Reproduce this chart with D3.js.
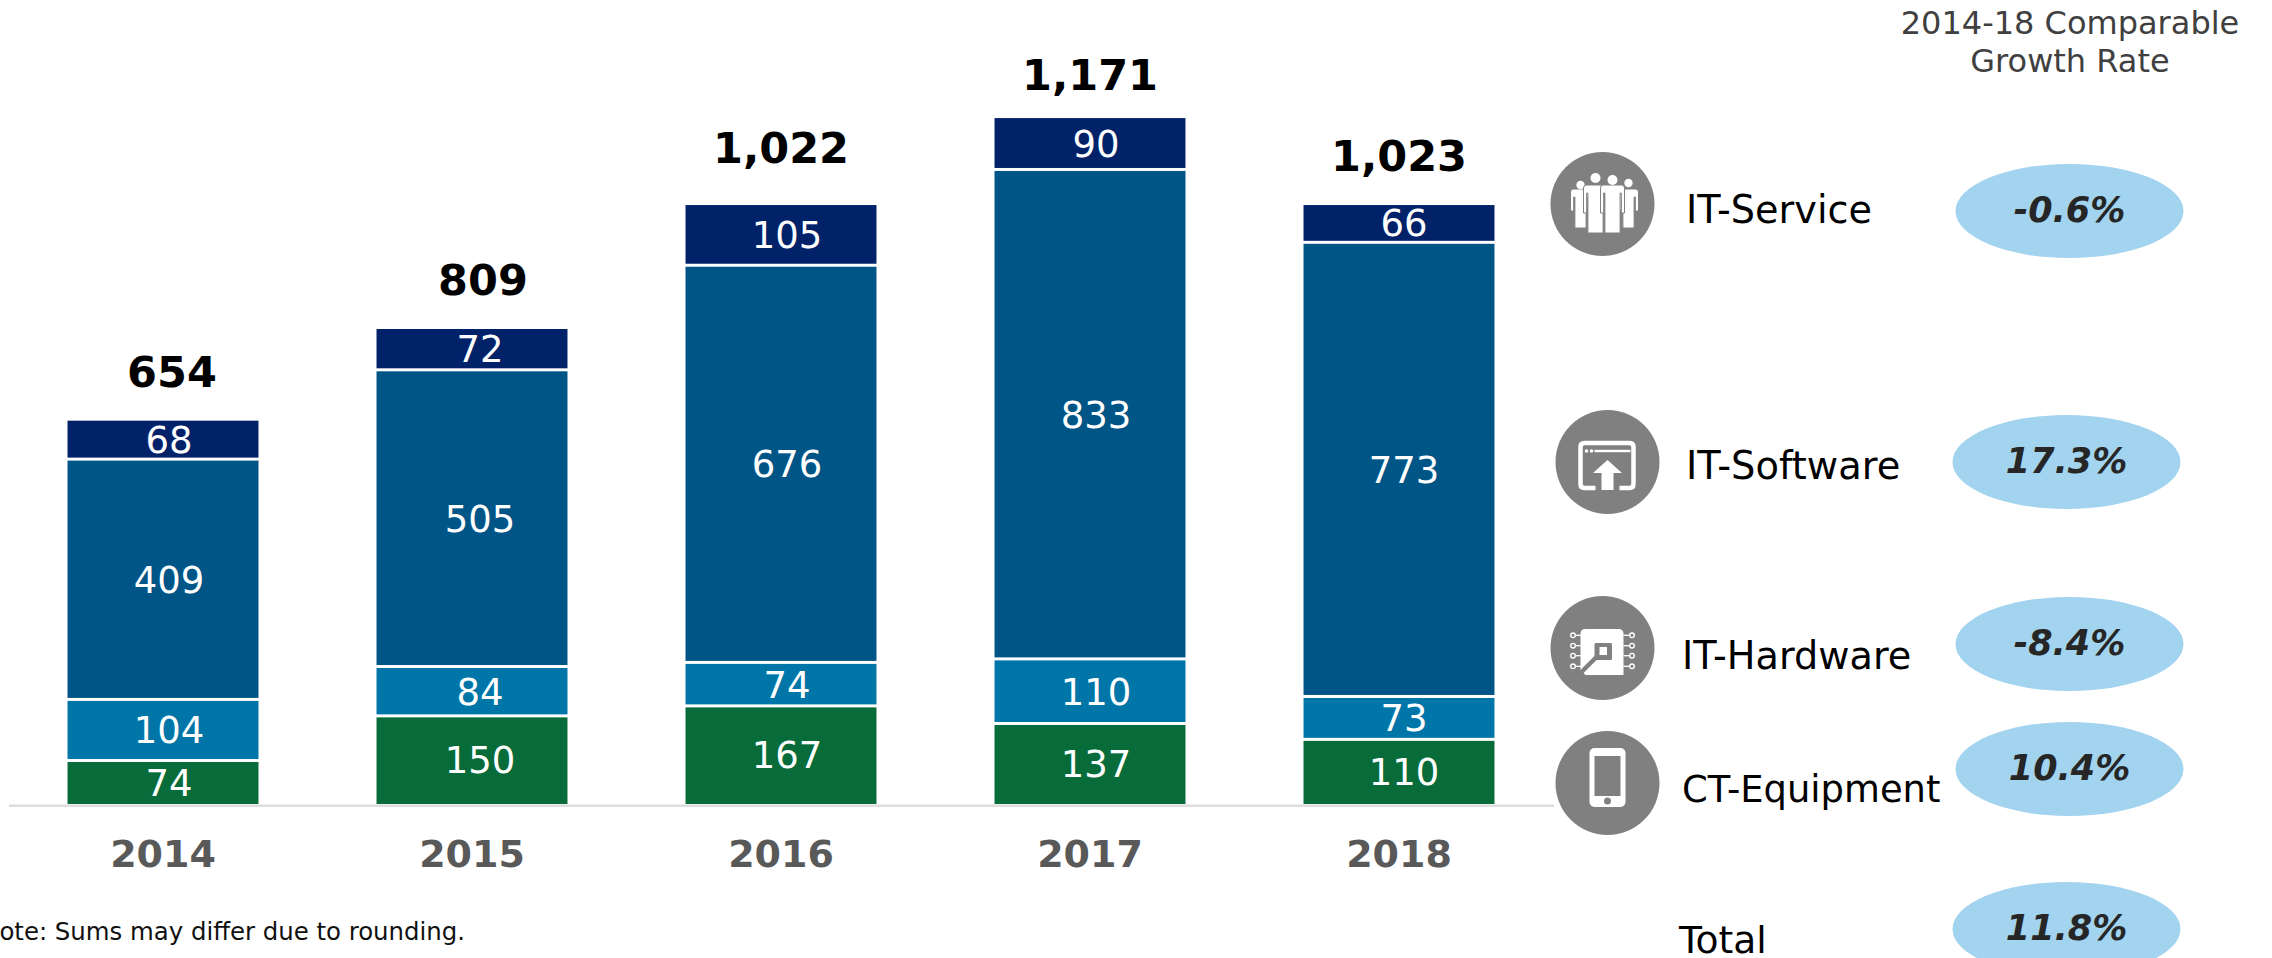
<!DOCTYPE html>
<html>
<head>
<meta charset="utf-8">
<script src="https://cdn.jsdelivr.net/npm/d3@7"></script>
<style>
html,body{margin:0;padding:0;background:#fff;overflow:hidden;}
text{font-family:"DejaVu Sans",Verdana,sans-serif;}
</style>
</head>
<body>
<div id="chart"></div>
<script>
// values
var years=["2014","2015","2016","2017","2018"];
var ctEquipment=[74,150,167,137,110];
var itHardware=[104,84,74,110,73];
var itSoftware=[409,505,676,833,773];
var itService=[68,72,105,90,66];
var totals=["654","809","1,022","1,171","1,023"];
var segmentNames=["IT-Service","IT-Software","IT-Hardware","CT-Equipment","Total"];
var growthRates=["-0.6%","17.3%","-8.4%","10.4%","11.8%"];

var segmentKeys=["ct","hw","sw","sv"];
var segmentColors=["#076b3a","#0076a8","#005587","#012169"];

// the source slide has its labels placed by hand, so these are nudges per year
var segmentLabelDx=[6,8,6,6,5];
var totalLabelDx=[9,11,0,0,0];
var totalLabelGap=[32,33,41,27,33];

// right hand panel placement
var ovalX=[2069.5,2066.5,2069.5,2069.5,2066.5];
var ovalY=[211,462,644,769,929];
var nameX=[1686,1686,1682,1682,1679];
var nameY=[223,479,669,802,953];
var nameSize=[38.2,38.4,38.2,36.9,37.6];
var iconX=[1602.5,1607.5,1602.5,1607.5];
var iconY=[204,462,648,783];

var width=2272,height=958;
var svg=d3.select("#chart").append("svg").attr("width",width).attr("height",height).style("display","block");

var x=d3.scaleBand().domain(years).range([8.5,1553.5]).paddingInner(0.382).paddingOuter(0.191);
var y=d3.scaleLinear().domain([0,1171]).range([804,116]);

var rows=years.map(function(d,i){
	return {year:d,ct:ctEquipment[i],hw:itHardware[i],sw:itSoftware[i],sv:itService[i]};
});
var stack=d3.stack().keys(segmentKeys);
var gap=3;

var layers=svg.selectAll(".layer").data(stack(rows)).enter().append("g")
	.attr("class","layer")
	.attr("fill",function(d,i){return segmentColors[i];});

layers.selectAll("rect").data(function(d){return d;}).enter().append("rect")
	.attr("x",function(d){return x(d.data.year);})
	.attr("width",x.bandwidth())
	.attr("y",function(d){return y(d[1])+gap/2;})
	.attr("height",function(d){
		return y(d[0])-y(d[1])-(d[0]===0?gap/2:gap);
	});

layers.selectAll("text").data(function(d){return d;}).enter().append("text")
	.attr("x",function(d,i){return x(d.data.year)+x.bandwidth()/2+segmentLabelDx[i];})
	.attr("y",function(d){return (y(d[0])+y(d[1]))/2;})
	.attr("dy",".365em")
	.attr("text-anchor","middle")
	.attr("fill","#fff")
	.attr("font-size",37)
	.text(function(d){return d[1]-d[0];});

// totals above the bars
svg.selectAll(".total").data(rows).enter().append("text")
	.attr("class","total")
	.attr("x",function(d,i){return x(d.year)+x.bandwidth()/2+totalLabelDx[i];})
	.attr("y",function(d,i){return y(d.ct+d.hw+d.sw+d.sv)-totalLabelGap[i];})
	.attr("text-anchor","middle")
	.attr("font-size",43)
	.attr("font-weight","bold")
	.attr("fill","#000")
	.text(function(d,i){return totals[i];});

var axis=d3.axisBottom(x).tickSize(0).tickSizeOuter(0).tickPadding(35);
var axisG=svg.append("g").attr("transform","translate(0,805.25)").call(axis);
axisG.select(".domain").attr("stroke","#dddddd").attr("stroke-width",2.5);
axisG.selectAll("text")
	.style("font-family",'"DejaVu Sans",Verdana,sans-serif')
	.attr("font-size",38)
	.attr("font-weight","bold")
	.attr("fill","#595959");

// cut off at the left edge in the reference too
svg.append("text").attr("x",465).attr("y",940).attr("text-anchor","end")
	.attr("font-size",24.4).attr("fill","#111")
	.text("Note: Sums may differ due to rounding.");

// growth panel
var header=["2014-18 Comparable","Growth Rate"];
svg.selectAll(".head").data(header).enter().append("text")
	.attr("class","head")
	.attr("x",2070)
	.attr("y",function(d,i){return 34+i*38;})
	.attr("text-anchor","middle")
	.attr("font-size",32)
	.attr("fill","#404040")
	.text(function(d){return d;});

svg.selectAll(".name").data(segmentNames).enter().append("text")
	.attr("class","name")
	.attr("x",function(d,i){return nameX[i];})
	.attr("y",function(d,i){return nameY[i];})
	.attr("font-size",function(d,i){return nameSize[i];})
	.attr("fill","#000")
	.text(function(d){return d;});

svg.selectAll(".oval").data(growthRates).enter().append("ellipse")
	.attr("class","oval")
	.attr("cx",function(d,i){return ovalX[i];})
	.attr("cy",function(d,i){return ovalY[i];})
	.attr("rx",114)
	.attr("ry",47)
	.attr("fill","#a2d3ef");

svg.selectAll(".rate").data(growthRates).enter().append("text")
	.attr("class","rate")
	.attr("x",function(d,i){return ovalX[i];})
	.attr("y",function(d,i){return ovalY[i]-2;})
	.attr("dy",".36em")
	.attr("text-anchor","middle")
	.attr("font-size",35)
	.attr("font-weight","bold")
	.attr("font-style","italic")
	.attr("fill","#262626")
	.text(function(d){return d;});

var icons=svg.selectAll(".icon").data(iconX).enter().append("g")
	.attr("class","icon")
	.attr("transform",function(d,i){return "translate("+iconX[i]+","+iconY[i]+")";});
icons.append("circle").attr("r",52).attr("fill","#808080");

function drawPerson(g,cx,headY,headR,top,h,armB,legB){
	var a=3.2,l=h-a-1.2;
	g.append("path")
		.attr("d","M"+(cx-h)+","+(top+3)+"Q"+(cx-h)+","+top+" "+(cx-h+3)+","+top
			+"H"+(cx+h-3)+"Q"+(cx+h)+","+top+" "+(cx+h)+","+(top+3)
			+"V"+armB+"H"+(cx+h-a)+"V"+(top+8)+"H"+(cx+l)
			+"V"+legB+"H"+(cx-l)+"V"+(top+8)+"H"+(cx-h+a)+"V"+armB+"H"+(cx-h)+"Z")
		.attr("fill","#fff").attr("stroke","#808080").attr("stroke-width",1);
	g.append("circle").attr("cx",cx).attr("cy",headY).attr("r",headR).attr("fill","#fff");
}
function drawPeople(g){
	drawPerson(g,-22,-19,4.2,-15,10,7,24);
	drawPerson(g,26,-21,4.2,-15,10,7,24);
	drawPerson(g,-7,-26,5,-19,12,9,29);
	drawPerson(g,10,-24,5,-19,12,9,29);
}
function drawSoftware(g){
	g.append("path").attr("d","M-12,26H-23Q-27,26 -27,22V-15Q-27,-19 -23,-19H22Q26,-19 26,-15V22Q26,26 22,26H12")
		.attr("fill","none").attr("stroke","#fff").attr("stroke-width",4.5);
	g.append("circle").attr("cx",-21).attr("cy",-11).attr("r",1.8).attr("fill","#fff");
	g.append("circle").attr("cx",-16).attr("cy",-11).attr("r",1.8).attr("fill","#fff");
	g.append("rect").attr("x",-13).attr("y",-12.2).attr("width",36).attr("height",2.4).attr("fill","#fff");
	g.append("path").attr("d","M0,-2L14.5,11H6V28H-6V11H-14.5Z").attr("fill","#fff");
}
function drawChip(g){
	g.append("path").attr("d","M-17,-19H16Q21,-19 21,-14V27H-17L-22,22V-14Q-22,-19 -17,-19Z").attr("fill","#fff");
	g.append("line").attr("x1",-6).attr("y1",9).attr("x2",-26).attr("y2",29).attr("stroke","#808080").attr("stroke-width",4.5);
	g.append("rect").attr("x",-8).attr("y",-5).attr("width",17.5).attr("height",17).attr("rx",1.5).attr("fill","#808080");
	g.append("rect").attr("x",-3).attr("y",-1).attr("width",7.5).attr("height",8).attr("fill","#fff");
	[-12.7,-2.3,7.7,18.3].forEach(function(v){
		[-1,1].forEach(function(s){
			g.append("line").attr("x1",s*21).attr("y1",v).attr("x2",s*27).attr("y2",v).attr("stroke","#fff").attr("stroke-width",1.3);
			g.append("circle").attr("cx",s*29.5).attr("cy",v).attr("r",2.3).attr("fill","#808080").attr("stroke","#fff").attr("stroke-width",1.4);
		});
	});
}
function drawPhone(g){
	g.append("rect").attr("x",-18).attr("y",-35).attr("width",36).attr("height",59).attr("rx",5).attr("fill","#fff");
	g.append("rect").attr("x",-13).attr("y",-27).attr("width",26).attr("height",40).attr("fill","#808080");
	g.append("circle").attr("cy",18).attr("r",3.5).attr("fill","#808080");
}
drawPeople(d3.select(icons.nodes()[0]));
drawSoftware(d3.select(icons.nodes()[1]));
drawChip(d3.select(icons.nodes()[2]));
drawPhone(d3.select(icons.nodes()[3]));
</script>
</body>
</html>
